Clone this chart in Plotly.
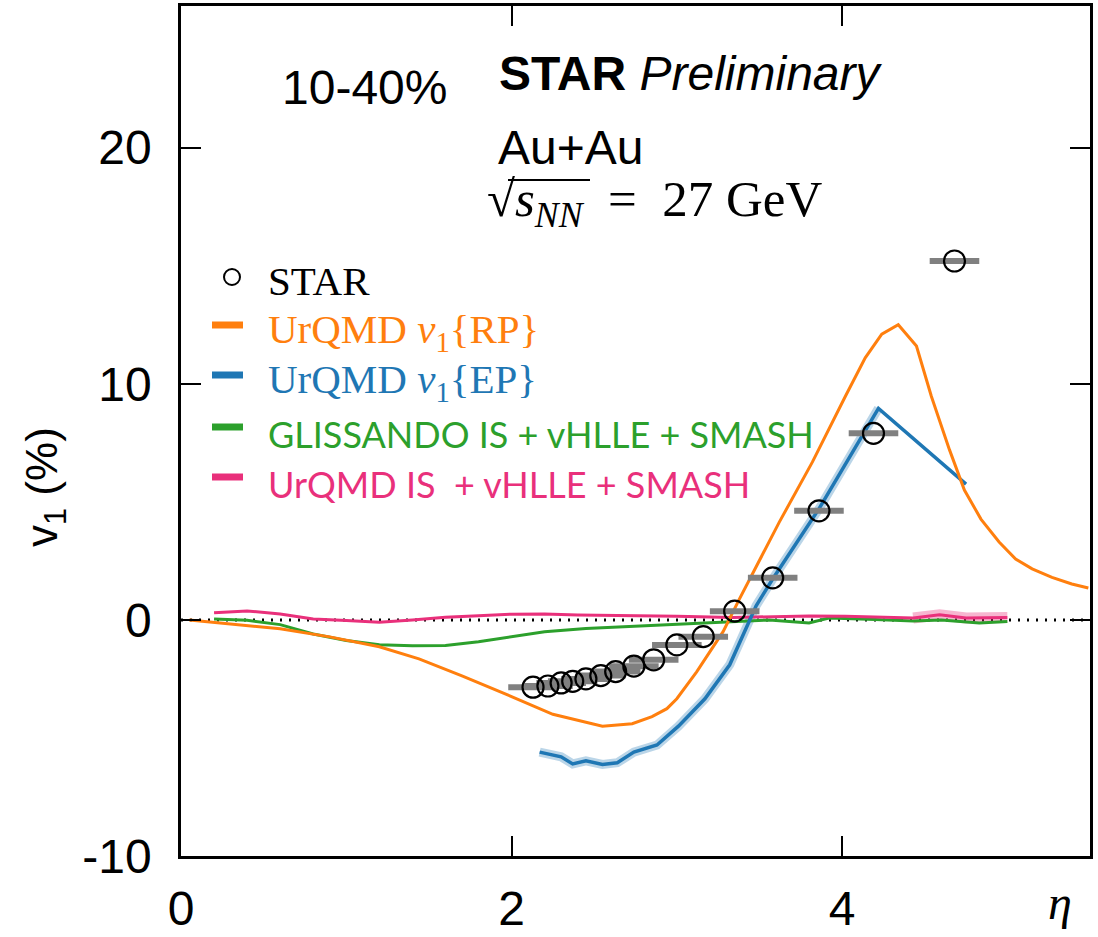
import plotly.graph_objects as go

# ---------------- data ----------------
rp_x = [0.05, 0.6, 0.9, 1.2, 1.44, 1.7, 2.0, 2.25, 2.55, 2.73, 2.85, 2.94, 3.0, 3.12, 3.28, 3.38,
        3.62, 3.82, 4.02, 4.14, 4.24, 4.34, 4.45, 4.54, 4.65, 4.74, 4.84, 4.95, 5.05, 5.15, 5.27, 5.39, 5.49]
rp_y = [0.0, -0.38, -0.72, -1.14, -1.65, -2.37, -3.25, -4.0, -4.5, -4.4, -4.1, -3.76, -3.34, -2.2, -0.5, 0.9,
        4.14, 6.68, 9.47, 11.1, 12.1, 12.5, 11.6, 9.47, 7.2, 5.5, 4.27, 3.3, 2.58, 2.16, 1.8, 1.52, 1.35]

ep_x = [2.17, 2.30, 2.37, 2.45, 2.55, 2.64, 2.74, 2.88, 3.01, 3.17, 3.32, 3.48, 3.58, 3.86, 4.22, 4.75]
ep_y = [-5.6, -5.8, -6.1, -5.97, -6.12, -6.05, -5.6, -5.3, -4.5, -3.34, -1.9, 0.6, 1.73, 4.7, 8.96, 5.75]

gl_x = [0.2, 0.4, 0.6, 0.8, 1.0, 1.2, 1.4, 1.6, 1.8, 2.0, 2.2, 2.45, 2.88, 3.27, 3.56, 3.8, 3.92,
        4.2, 4.43, 4.6, 4.83, 5.0]
gl_y = [0.04, -0.02, -0.2, -0.6, -0.87, -1.05, -1.1, -1.08, -0.93, -0.73, -0.5, -0.36, -0.21, -0.08, 0.0,
        -0.13, 0.08, 0.02, -0.05, 0.0, -0.13, -0.07]

ui_x = [0.2, 0.4, 0.6, 0.8, 1.0, 1.2, 1.4, 1.6, 1.8, 2.0, 2.2, 2.4, 3.0, 3.34, 3.8, 4.02, 4.43, 4.59,
        4.75, 5.0]
ui_y = [0.3, 0.38, 0.25, 0.04, -0.03, -0.1, 0.0, 0.11, 0.18, 0.24, 0.25, 0.21, 0.15, 0.1, 0.17, 0.15,
        0.08, 0.22, 0.08, 0.1]

star_x = [2.13, 2.22, 2.30, 2.37, 2.45, 2.54, 2.63, 2.74, 2.86, 3.0, 3.16, 3.35, 3.58, 3.86, 4.19, 4.68]
star_y = [-2.85, -2.8, -2.67, -2.6, -2.5, -2.36, -2.19, -1.96, -1.69, -1.06, -0.71, 0.37, 1.78, 4.62, 7.9, 15.2]
star_xerr = [0.15] * len(star_x)

x_ticks = [0, 2, 4]
x_ticktext = ["0", "2", "4"]
y_ticks = [-10, 0, 10, 20]
y_ticktext = ["-10", "0", "10", "20"]
x_range = [0, 5.5]
y_range = [-10, 26]

# ---------------- styling ----------------
ORANGE = "#ff7f0e"
BLUE = "#1f77b4"
GREEN = "#2ca02c"
PINK = "#e9307b"
SANS = "Liberation Sans, Arial, sans-serif"
SERIF = "Liberation Serif, Times New Roman, serif"
LSANS = "Lato, sans-serif"

W, H = 1098, 937
L, R, T, B = 181, 1090, 6, 856


def px(x):
    return (x - L) / (R - L)


def py(y):
    return (B - y) / (B - T)


fig = go.Figure()

# zero reference line
fig.add_trace(go.Scatter(x=x_range, y=[0, 0], mode="lines",
                         line=dict(color="black", width=3, dash="2px,7px"),
                         hoverinfo="skip", showlegend=False))

# bands (underlays)
fig.add_trace(go.Scatter(x=ep_x[:-1], y=ep_y[:-1], mode="lines",
                         line=dict(color=BLUE, width=9), opacity=0.3,
                         hoverinfo="skip", showlegend=False))
band_x = [v for v in ui_x if v >= 4.4]
band_y = [ui_y[i] for i, v in enumerate(ui_x) if v >= 4.4]
fig.add_trace(go.Scatter(x=band_x, y=band_y, mode="lines",
                         line=dict(color=PINK, width=11), opacity=0.35,
                         hoverinfo="skip", showlegend=False))

fig.add_trace(go.Scatter(x=gl_x, y=gl_y, mode="lines", line=dict(color=GREEN, width=3),
                         name="GLISSANDO IS + vHLLE + SMASH", showlegend=False))
fig.add_trace(go.Scatter(x=ui_x, y=ui_y, mode="lines", line=dict(color=PINK, width=3),
                         name="UrQMD IS + vHLLE + SMASH", showlegend=False))
fig.add_trace(go.Scatter(x=ep_x, y=ep_y, mode="lines", line=dict(color=BLUE, width=3.5),
                         name="UrQMD v1{EP}", showlegend=False))
fig.add_trace(go.Scatter(x=rp_x, y=rp_y, mode="lines", line=dict(color=ORANGE, width=3),
                         name="UrQMD v1{RP}", showlegend=False))
fig.add_trace(go.Scatter(x=star_x, y=star_y, mode="markers",
                         marker=dict(symbol="circle-open", size=21, color="black",
                                     line=dict(width=2.2, color="black")),
                         error_x=dict(type="data", array=star_xerr, color="#808080",
                                      thickness=6, width=0),
                         name="STAR", showlegend=False))

# ---------------- legend (manual) ----------------
leg_rows = [
    ("circle", "black", "STAR", SERIF, 41, 277),
    ("line", ORANGE, "UrQMD <i>v</i><sub>1</sub>{RP}", SERIF, 41, 328),
    ("line", BLUE, "UrQMD <i>v</i><sub>1</sub>{EP}", SERIF, 41, 378),
    ("line", GREEN, "GLISSANDO IS + vHLLE + SMASH", LSANS, 36, 430),
    ("line", PINK, "UrQMD IS&#160; + vHLLE + SMASH", LSANS, 36, 480),
]
shapes = []
annotations = []
for kind, col, txt, fam, sz, yc in leg_rows:
    if kind == "circle":
        shapes.append(dict(type="circle", xref="paper", yref="paper",
                           xsizemode="pixel", ysizemode="pixel",
                           xanchor=px(232), yanchor=py(yc),
                           x0=-8, x1=8, y0=-8, y1=8,
                           line=dict(color="black", width=2)))
    else:
        shapes.append(dict(type="line", xref="paper", yref="paper",
                           x0=px(212), x1=px(243), y0=py(yc - 3), y1=py(yc - 3),
                           line=dict(color=col, width=7)))
    annotations.append(dict(text=txt, xref="paper", yref="paper", x=px(266), y=py(yc + 4),
                            xanchor="left", yanchor="middle", showarrow=False,
                            font=dict(family=fam, size=sz, color=col)))

# overline of the square root
shapes.append(dict(type="line", xref="paper", yref="paper",
                   x0=px(508), x1=px(590), y0=py(180), y1=py(180),
                   line=dict(color="black", width=2)))

# ---------------- texts ----------------
annotations += [
    dict(text="10-40%", x=px(364), y=py(88), xanchor="center", yanchor="middle",
         font=dict(family=SANS, size=48, color="black")),
    dict(text="<b>STAR</b> <i>Preliminary</i>", x=px(497), y=py(74), xanchor="left",
         yanchor="middle", font=dict(family=SANS, size=48, color="black")),
    dict(text="Au+Au", x=px(496), y=py(147), xanchor="left", yanchor="middle",
         font=dict(family=SANS, size=48, color="black")),
    dict(text="√<i>s</i><sub><i>NN</i></sub>\u2002=\u200227 GeV",
         x=px(485), y=py(203), xanchor="left", yanchor="middle",
         font=dict(family=SERIF, size=51, color="black")),
    dict(text="v<sub>1</sub> (%)", x=px(45), y=py(487), xanchor="center", yanchor="middle",
         textangle=-90, font=dict(family=SANS, size=44, color="black")),
    dict(text="<i>η</i>", x=px(1060), y=py(902), xanchor="center", yanchor="middle",
         font=dict(family=SERIF, size=48, color="black")),
]
for a in annotations:
    a.setdefault("xref", "paper")
    a.setdefault("yref", "paper")
    a["showarrow"] = False

axis_common = dict(showgrid=False, zeroline=False, showline=True, linecolor="black",
                   linewidth=2.5, mirror="allticks", ticks="inside", ticklen=20,
                   tickwidth=2, tickcolor="black", automargin=False,
                   tickfont=dict(family=SANS, size=48, color="black"))

fig.update_layout(
    width=W, height=H,
    margin=dict(l=L, r=W - R, t=T, b=H - B, autoexpand=False),
    paper_bgcolor="white", plot_bgcolor="white",
    xaxis=dict(range=x_range, tickvals=x_ticks, ticktext=x_ticktext,
               ticklabelstandoff=9, **axis_common),
    yaxis=dict(range=y_range, tickvals=y_ticks, ticktext=y_ticktext,
               ticklabelstandoff=17, **axis_common),
    shapes=shapes, annotations=annotations, showlegend=False,
)

fig.write_html("out.html")
